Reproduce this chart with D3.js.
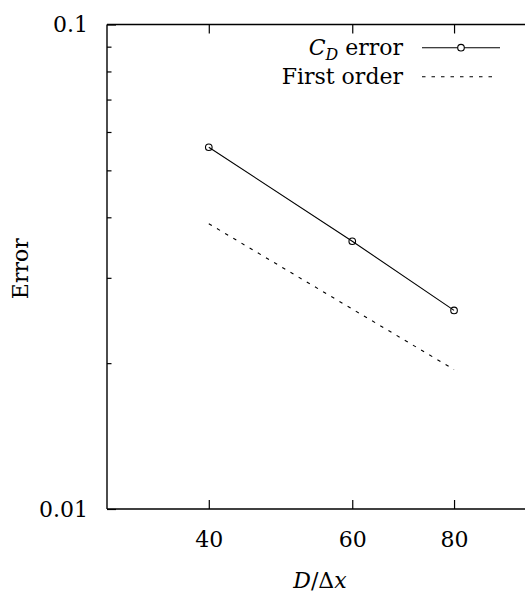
<!DOCTYPE html>
<html>
<head>
<meta charset="utf-8">
<script src="https://cdn.jsdelivr.net/npm/d3@7"></script>
<style>
  html, body { margin: 0; padding: 0; background: #fff; }
  svg { display: block; }
  text { font-family: "DejaVu Serif", "Liberation Serif", serif; fill: #000; }
</style>
</head>
<body>
<svg id="chart" width="525" height="595"></svg>
<script>
// ---- data ----
const resolutions = [40, 60, 80];
const cdError = [0.0558, 0.0357, 0.0257];
const firstOrderX = [40, 80];
const firstOrderY = [0.0388, 0.0194];
const xTicks = [40, 60, 80];
const yMajorTicks = [0.01, 0.1];
const yMinorTicks = [0.02, 0.03, 0.04, 0.05, 0.06, 0.07, 0.08, 0.09];
const legendLabels = ["C_D error", "First order"];

// ---- layout ----
const svg = d3.select("#chart");
const pLeft = 107, pRight = 533, pTop = 24.5, pBottom = 509;
const fs = 22;

const x = d3.scaleLog().domain([30, 100]).range([pLeft, pRight]);
const y = d3.scaleLog().domain([0.01, 0.1]).range([pBottom, pTop]);

// frame (clipped on the right by the image edge)
const frame = svg.append("g").attr("stroke", "#000").attr("stroke-width", 1.4).attr("fill", "none");
frame.append("line").attr("x1", pLeft).attr("x2", pRight).attr("y1", pTop).attr("y2", pTop);
frame.append("line").attr("x1", pLeft).attr("x2", pRight).attr("y1", pBottom).attr("y2", pBottom);
frame.append("line").attr("x1", pLeft).attr("x2", pLeft).attr("y1", pTop).attr("y2", pBottom);
frame.append("line").attr("x1", pRight).attr("x2", pRight).attr("y1", pTop).attr("y2", pBottom);

// x axis ticks (bottom, inward) and labels
const xAxisB = d3.axisBottom(x).tickValues(xTicks).tickSizeInner(-9).tickSizeOuter(0)
  .tickFormat(d3.format("d")).tickPadding(22);
const gxb = svg.append("g").attr("transform", `translate(0,${pBottom})`).call(xAxisB);
gxb.select(".domain").remove();
gxb.selectAll(".tick line").attr("stroke", "#000").attr("stroke-width", 1.2);
gxb.selectAll(".tick text").style("font-size", fs + "px").style("font-family", "DejaVu Serif, serif");

// x axis ticks top (mirror)
const xAxisT = d3.axisTop(x).tickValues(xTicks).tickSizeInner(-9).tickSizeOuter(0).tickFormat("");
const gxt = svg.append("g").attr("transform", `translate(0,${pTop})`).call(xAxisT);
gxt.select(".domain").remove();
gxt.selectAll(".tick line").attr("stroke", "#000").attr("stroke-width", 1.2);

// y axis major
const yAxis = d3.axisLeft(y).tickValues(yMajorTicks).tickSizeInner(-9).tickSizeOuter(0)
  .tickFormat(d => d === 0.1 ? "0.1" : "0.01").tickPadding(19);
const gy = svg.append("g").attr("transform", `translate(${pLeft},0)`).call(yAxis);
gy.select(".domain").remove();
gy.selectAll(".tick line").attr("stroke", "#000").attr("stroke-width", 1.2);
gy.selectAll(".tick text").style("font-size", fs + "px").style("font-family", "DejaVu Serif, serif");

// y axis minor
const yMinor = d3.axisLeft(y).tickValues(yMinorTicks).tickSizeInner(-4.5).tickSizeOuter(0).tickFormat("");
const gym = svg.append("g").attr("transform", `translate(${pLeft},0)`).call(yMinor);
gym.select(".domain").remove();
gym.selectAll(".tick line").attr("stroke", "#000").attr("stroke-width", 1.2);

// axis titles
svg.append("text")
  .attr("transform", `translate(28,${(pTop + pBottom) / 2 + 2}) rotate(-90)`)
  .attr("text-anchor", "middle").style("font-size", fs + "px")
  .text("Error");

const xl = svg.append("text").attr("x", 320).attr("y", 588).attr("text-anchor", "middle").style("font-size", fs + "px");
xl.append("tspan").attr("font-style", "italic").text("D");
xl.append("tspan").text("/Δ");
xl.append("tspan").attr("font-style", "italic").text("x");

// ---- series ----
const cdData = resolutions.map((r, i) => [r, cdError[i]]);
const foData = firstOrderX.map((r, i) => [r, firstOrderY[i]]);
const line = d3.line().x(d => x(d[0])).y(d => y(d[1]));

svg.append("path").datum(cdData).attr("d", line)
  .attr("fill", "none").attr("stroke", "#000").attr("stroke-width", 1.1);
svg.selectAll("circle.pt").data(cdData).enter().append("circle").attr("class", "pt")
  .attr("cx", d => x(d[0])).attr("cy", d => y(d[1])).attr("r", 3.3)
  .attr("fill", "none").attr("stroke", "#000").attr("stroke-width", 1.1);

svg.append("path").datum(foData).attr("d", line)
  .attr("fill", "none").attr("stroke", "#000").attr("stroke-width", 1.1)
  .attr("stroke-dasharray", "3.5,6");

// ---- legend ----
const legX = 403, row1 = 47.7, row2 = 76.7;
const l1 = svg.append("text").attr("x", legX).attr("y", row1 + 7).attr("text-anchor", "end").style("font-size", fs + "px");
l1.append("tspan").attr("font-style", "italic").text(legendLabels[0].split("_")[0]);
l1.append("tspan").attr("font-style", "italic").attr("dy", 5).style("font-size", (fs * 0.72) + "px").text(legendLabels[0].split("_")[1].split(" ")[0]);
l1.append("tspan").attr("dy", -5).text(" " + legendLabels[0].split(" ").slice(1).join(" "));

svg.append("text").attr("x", legX).attr("y", row2 + 7).attr("text-anchor", "end").style("font-size", fs + "px")
  .text(legendLabels[1]);

svg.append("line").attr("x1", 422).attr("x2", 500).attr("y1", row1).attr("y2", row1)
  .attr("stroke", "#000").attr("stroke-width", 1.1);
svg.append("circle").attr("cx", 461).attr("cy", row1).attr("r", 3.3)
  .attr("fill", "#fff").attr("stroke", "#000").attr("stroke-width", 1.1);
svg.append("line").attr("x1", 422).attr("x2", 497).attr("y1", row2).attr("y2", row2)
  .attr("stroke", "#000").attr("stroke-width", 1.1).attr("stroke-dasharray", "3.5,6");
</script>
</body>
</html>
